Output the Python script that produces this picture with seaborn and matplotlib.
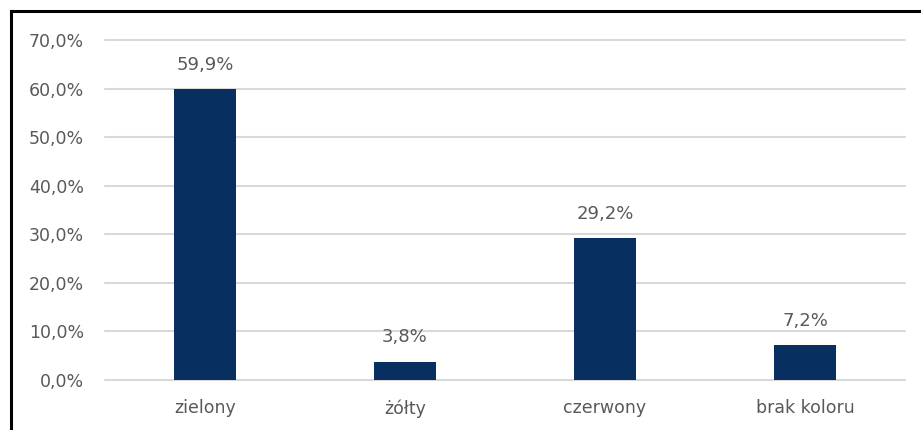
import matplotlib
matplotlib.use("Agg")
import matplotlib.pyplot as plt
from matplotlib.patches import Rectangle
import seaborn as sns
import pandas as pd

categories = ["zielony", "żółty", "czerwony", "brak koloru"]
shares = [59.9, 3.8, 29.2, 7.2]
y_ticks = [0, 10, 20, 30, 40, 50, 60, 70]

df = pd.DataFrame({"kolor": categories, "udzial": shares})

sns.set_theme(style="white")
plt.rcParams["font.family"] = ["DejaVu Sans"]

text_color = "#595959"
bar_color = "#072F5F"
grid_color = "#D9D9D9"

fig = plt.figure(figsize=(9.21, 4.30), dpi=100)
ax = fig.add_axes([105 / 921, (430 - 380) / 430, 800 / 921, 340 / 430])

sns.barplot(data=df, x="kolor", y="udzial", color=bar_color, width=0.31,
            saturation=1, ax=ax, zorder=3, linewidth=0)

ax.set_ylim(0, 70)
ax.set_xlim(-0.5, len(categories) - 0.5)
ax.set_yticks(y_ticks)
ax.set_yticklabels([f"{v:.1f}".replace(".", ",") + "%" for v in y_ticks])
ax.yaxis.grid(True, color=grid_color, linewidth=1.5, zorder=0)
for gl in ax.get_ygridlines():
    gl.set_clip_on(False)
ax.set_axisbelow(True)
for s in ax.spines.values():
    s.set_visible(False)
ax.set_xlabel("")
ax.set_ylabel("")
ax.tick_params(axis="y", length=0, pad=15, labelsize=12.5, labelcolor=text_color)
ax.tick_params(axis="x", length=0, pad=14, labelsize=12.5, labelcolor=text_color)

ax.bar_label(ax.containers[0],
             labels=[f"{v:.1f}".replace(".", ",") + "%" for v in shares],
             padding=11, fontsize=13, color=text_color)

# outer frame of the chart area
fig.patches.append(Rectangle((11 / 921, -0.1), 1.2, (430 - 11) / 430 + 0.1,
                             transform=fig.transFigure, fill=False,
                             edgecolor="black", linewidth=2.2, zorder=10))

fig.savefig("out.png", dpi=100)
